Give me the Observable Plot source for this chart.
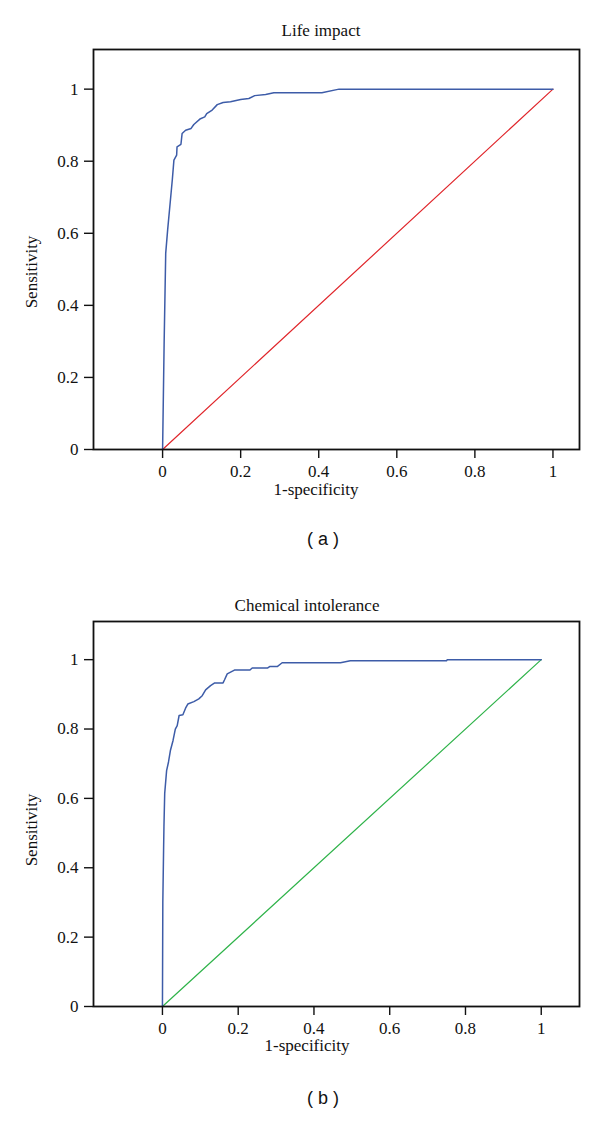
<!DOCTYPE html>
<html>
<head>
<meta charset="utf-8">
<script src="https://cdn.jsdelivr.net/npm/d3@7"></script>
<script src="https://cdn.jsdelivr.net/npm/@observablehq/plot@0.6"></script>
<style>
  html, body { margin: 0; padding: 0; background: #fff; }
  #root { position: relative; width: 600px; height: 1130px; font-family: "Liberation Serif", serif; color: #111; }
  .panel { position: absolute; left: 0; }
  .txt { position: absolute; transform: translate(-50%, -50%); white-space: nowrap; font-size: 17px; }
  .rot { transform: translate(-50%, -50%) rotate(-90deg); }
  .cap { font-family: "Liberation Sans", sans-serif; font-size: 18px; }
</style>
</head>
<body>
<div id="root"></div>
<script>
// ---- data ----
const xTicks = [0, 0.2, 0.4, 0.6, 0.8, 1];
const yTicks = [0, 0.2, 0.4, 0.6, 0.8, 1];
const diagX = [0, 1];
const diagY = [0, 1];

// (a) Life impact ROC
const aFpr = [0, 0.004, 0.008, 0.013, 0.019, 0.025, 0.029, 0.036, 0.037, 0.047, 0.050, 0.059, 0.073, 0.080, 0.097, 0.108, 0.113, 0.127, 0.140, 0.155, 0.174, 0.200, 0.221, 0.236, 0.264, 0.285, 0.408, 0.452, 1];
const aTpr = [0, 0.300, 0.545, 0.610, 0.680, 0.750, 0.803, 0.817, 0.840, 0.847, 0.877, 0.886, 0.891, 0.902, 0.918, 0.923, 0.932, 0.942, 0.957, 0.963, 0.965, 0.971, 0.974, 0.982, 0.985, 0.990, 0.990, 1.000, 1];

// (b) Chemical intolerance ROC
const bFpr = [0, 0.001, 0.003, 0.004, 0.006, 0.011, 0.016, 0.021, 0.028, 0.034, 0.039, 0.044, 0.054, 0.061, 0.067, 0.083, 0.096, 0.105, 0.114, 0.127, 0.138, 0.160, 0.164, 0.171, 0.190, 0.231, 0.237, 0.278, 0.283, 0.303, 0.316, 0.470, 0.496, 0.750, 0.752, 1];
const bTpr = [0, 0.300, 0.450, 0.520, 0.615, 0.680, 0.705, 0.738, 0.767, 0.800, 0.810, 0.839, 0.841, 0.860, 0.872, 0.879, 0.887, 0.896, 0.913, 0.925, 0.933, 0.933, 0.942, 0.959, 0.970, 0.970, 0.976, 0.976, 0.980, 0.980, 0.991, 0.991, 0.997, 0.997, 1.000, 1];

const root = document.getElementById("root");

function addText(txt, x, y, cls) {
  const d = document.createElement("div");
  d.className = "txt " + (cls || "");
  d.textContent = txt;
  d.style.left = x + "px";
  d.style.top = y + "px";
  root.appendChild(d);
}

function panel(fpr, tpr, diagColor, xDomain, top, marginTop, height) {
  const curve = fpr.map((v, i) => ({x: v, y: tpr[i]}));
  const diag = diagX.map((v, i) => ({x: v, y: diagY[i]}));
  const chart = Plot.plot({
    width: 600,
    height: height,
    marginLeft: 93,
    marginRight: 21,
    marginTop: marginTop,
    marginBottom: 41,
    style: {fontFamily: "'Liberation Serif', serif", fontSize: "17px", color: "#111", background: "transparent"},
    x: {domain: xDomain},
    y: {domain: [0, 1.11]},
    marks: [
      Plot.line(diag, {x: "x", y: "y", stroke: diagColor, strokeWidth: 1.2}),
      Plot.line(curve, {x: "x", y: "y", stroke: "#3d5ca8", strokeWidth: 1.5}),
      Plot.frame({stroke: "#111", strokeWidth: 1.8}),
      Plot.axisX({ticks: xTicks, tickSize: 9, tickPadding: 6, tickFormat: d => String(d), label: null, strokeWidth: 1.4}),
      Plot.axisY({ticks: yTicks, tickSize: 9, tickPadding: 6, tickFormat: d => String(d), label: null, strokeWidth: 1.4})
    ]
  });
  chart.classList.add("panel");
  chart.style.top = top + "px";
  root.appendChild(chart);
}

panel(aFpr, aTpr, "#e0262b", [-0.177, 1.068], 0, 49, 490);
addText("Life impact", 321, 31);
addText("Sensitivity", 32, 272, "rot");
addText("1-specificity", 316, 490);
addText("( a )", 323, 539, "cap");

panel(bFpr, bTpr, "#2fb34a", [-0.182, 1.101], 560, 61, 487);
addText("Chemical intolerance", 307, 606);
addText("Sensitivity", 32, 830, "rot");
addText("1-specificity", 307, 1046);
addText("( b )", 323, 1098, "cap");
</script>
</body>
</html>
